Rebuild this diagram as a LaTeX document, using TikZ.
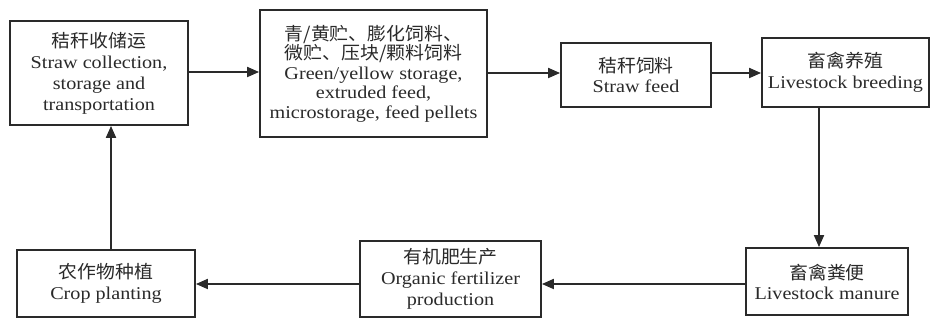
\documentclass[tikz,border=0pt]{standalone}
\usepackage{fontspec}
\setmainfont{Liberation Serif}[FakeStretch=1.12]
\newfontfamily\cjk{Noto Sans CJK SC}[FakeStretch=1.05]
\usetikzlibrary{arrows.meta}
\definecolor{ink}{HTML}{2A2A2A}
\tikzset{
  boxnode/.style={draw=ink, line width=1.8pt, rectangle, inner sep=0pt, align=center,
    text=ink, font=\fontsize{18}{21}\selectfont},
  flow/.style={draw=ink, line width=1.8pt, -{Triangle[length=12pt,width=10pt]}}
}
\begin{document}
\begin{tikzpicture}[x=1pt,y=-1pt]
\useasboundingbox (0,0) rectangle (930,320);
\fill[white] (0,0) rectangle (930,320);
\node[boxnode, minimum width=178pt, minimum height=104pt] (collect) at (99,73)
  {{\cjk 秸秆收储运}\\Straw collection,\\storage and\\transportation};
\node[boxnode, minimum width=227pt, minimum height=127pt, font=\fontsize{18}{19.5}\selectfont] (process) at (373.5,73.5)
  {{\cjk 青/黄贮、膨化饲料、}\\{\cjk 微贮、压块/颗料饲料}\\Green/yellow storage,\\extruded feed,\\microstorage, feed pellets};
\node[boxnode, minimum width=150pt, minimum height=64pt, font=\fontsize{18}{20}\selectfont] (feed) at (636,75)
  {{\cjk 秸秆饲料}\\Straw feed};
\node[boxnode, minimum width=167pt, minimum height=69pt] (breed) at (845.5,72.5)
  {{\cjk 畜禽养殖}\\Livestock breeding};
\node[boxnode, minimum width=162pt, minimum height=67pt, font=\fontsize{18}{20}\selectfont] (manure) at (827,281.5)
  {{\cjk 畜禽粪便}\\Livestock manure};
\node[boxnode, minimum width=181pt, minimum height=76pt] (fert) at (450.5,279)
  {{\cjk 有机肥生产}\\Organic fertilizer\\production};
\node[boxnode, minimum width=178pt, minimum height=67pt] (crop) at (106,283.5)
  {{\cjk 农作物种植}\\Crop planting};
\draw[flow] (collect.east |- 0,72) -- (process.west |- 0,72);
\draw[flow] (process.east |- 0,73) -- (feed.west |- 0,73);
\draw[flow] (feed.east |- 0,73) -- (breed.west |- 0,73);
\draw[flow] (breed.south -| 819,0) -- (manure.north -| 819,0);
\draw[flow] (manure.west |- 0,284) -- (fert.east |- 0,284);
\draw[flow] (fert.west |- 0,284) -- (crop.east |- 0,284);
\draw[flow] (crop.north -| 111,0) -- (collect.south -| 111,0);
\end{tikzpicture}
\end{document}
